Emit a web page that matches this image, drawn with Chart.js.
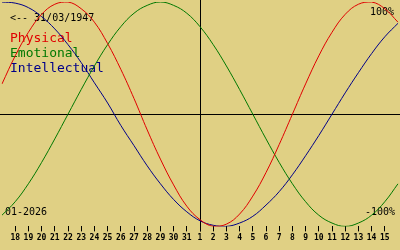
<!DOCTYPE html>
<html>
<head>
<meta charset="utf-8">
<script src="https://cdn.jsdelivr.net/npm/chart.js@4/dist/chart.umd.min.js"></script>
<style>
html,body{margin:0;padding:0;background:#E0D084;}
#wrap{width:400px;height:250px;}
</style>
</head>
<body>
<div id="wrap"><canvas id="c" width="400" height="250"></canvas></div>
<script>
// Day-of-month labels, 17 Dec 2025 .. 16 Jan 2026
const dayLabels = ['17','18','19','20','21','22','23','24','25','26','27','28','29','30','31',
  '1','2','3','4','5','6','7','8','9','10','11','12','13','14','15','16'];
// Biorhythm values (fraction of 100%) read per day
const physical = [0.27,0.52,0.73,0.89,0.98,1.00,0.94,0.82,0.63,0.40,0.14,-0.14,-0.40,-0.63,-0.82,
  -0.94,-1.00,-0.98,-0.89,-0.73,-0.52,-0.27,0.00,0.27,0.52,0.73,0.89,0.98,1.00,0.94,0.82];
const emotional = [-0.90,-0.78,-0.62,-0.43,-0.22,0.00,0.22,0.43,0.62,0.78,0.90,0.97,1.00,0.97,0.90,
  0.78,0.62,0.43,0.22,0.00,-0.22,-0.43,-0.62,-0.78,-0.90,-0.97,-1.00,-0.97,-0.90,-0.78,-0.62];
const intellectual = [1.00,0.99,0.95,0.87,0.76,0.62,0.46,0.28,0.10,-0.10,-0.28,-0.46,-0.62,-0.76,-0.87,
  -0.95,-0.99,-1.00,-0.97,-0.91,-0.81,-0.69,-0.54,-0.37,-0.19,0.00,0.19,0.37,0.54,0.69,0.81];
const seriesNames = ['Physical','Emotional','Intellectual'];
const seriesColors = ['#E00000','#007800','#000088'];
const birthText = '<-- 31/03/1947';
const monthText = '01-2026';
const topText = '100%';
const bottomText = '-100%';
const todayIndex = 15;

const BG = '#E0D084';
const MONO = '"DejaVu Sans Mono", "Liberation Mono", monospace';

const overlay = {
  id: 'overlay',
  beforeDraw(chart) {
    const ctx = chart.ctx;
    ctx.save();
    ctx.fillStyle = BG;
    ctx.fillRect(0, 0, chart.width, chart.height);
    ctx.restore();
  },
  beforeDatasetsDraw(chart) {
    const ctx = chart.ctx, x = chart.scales.x, y = chart.scales.y, a = chart.chartArea;
    ctx.save();
    ctx.strokeStyle = '#000';
    ctx.lineWidth = 1;
    const y0 = Math.round(y.getPixelForValue(0)) + 0.5;
    ctx.beginPath(); ctx.moveTo(0, y0); ctx.lineTo(chart.width, y0); ctx.stroke();
    const x0 = Math.round(x.getPixelForValue(todayIndex)) + 0.5;
    ctx.beginPath(); ctx.moveTo(x0, 0); ctx.lineTo(x0, a.bottom + 5); ctx.stroke();
    // texts
    ctx.textBaseline = 'alphabetic';
    ctx.fillStyle = '#000';
    ctx.font = '10px ' + MONO;
    ctx.textAlign = 'left';
    ctx.fillText(birthText, 10, 21);
    ctx.fillText(monthText, 5, 215);
    ctx.textAlign = 'right';
    ctx.fillText(topText, 394, 15);
    ctx.fillText(bottomText, 395, 215);
    ctx.textAlign = 'left';
    ctx.font = '13px ' + MONO;
    const bl = [42, 57, 72];
    seriesNames.forEach((n, i) => {
      ctx.fillStyle = seriesColors[i];
      ctx.fillText(n, 10, bl[i]);
    });
    ctx.restore();
  }
};

new Chart(document.getElementById('c'), {
  type: 'line',
  data: {
    labels: dayLabels,
    datasets: [physical, emotional, intellectual].map((d, i) => ({
      label: seriesNames[i],
      data: d,
      borderColor: seriesColors[i],
      borderWidth: 1,
      pointRadius: 0,
      tension: 0.4,
      fill: false
    }))
  },
  options: {
    responsive: false,
    devicePixelRatio: 1,
    animation: false,
    layout: { padding: { top: 2, bottom: 5, left: 0, right: 0 } },
    plugins: { legend: { display: false }, tooltip: { enabled: false } },
    scales: {
      x: {
        type: 'category',
        offset: false,
        border: { display: false },
        grid: {
          drawOnChartArea: false,
          tickLength: 5,
          tickColor: (c) => (c.index === 0 || c.index === dayLabels.length - 1) ? 'rgba(0,0,0,0)' : '#000'
        },
        ticks: {
          autoSkip: false,
          maxRotation: 0,
          padding: 2,
          color: '#000',
          font: { family: MONO, size: 8, weight: 'bold' },
          callback: (v, i) => (i === 0 || i === dayLabels.length - 1) ? '' : dayLabels[i]
        }
      },
      y: {
        display: false,
        min: -1,
        max: 1
      }
    }
  },
  plugins: [overlay]
});
</script>
</body>
</html>
